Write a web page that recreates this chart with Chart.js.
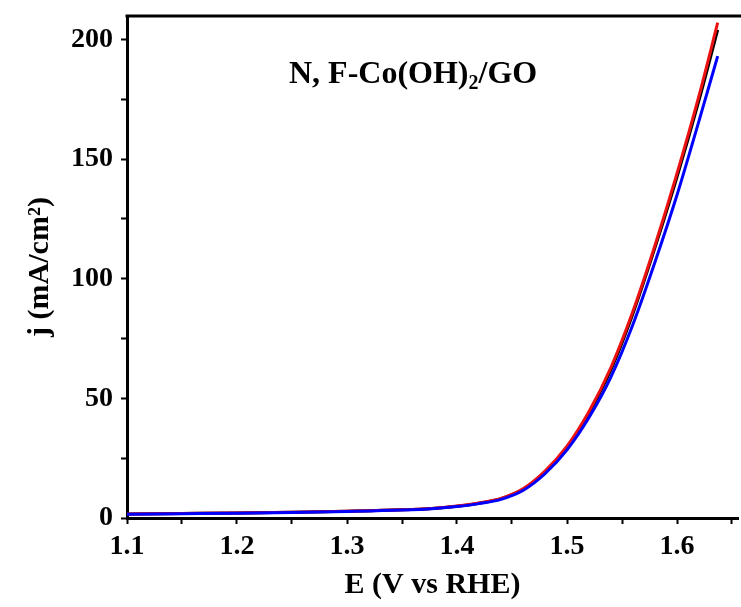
<!DOCTYPE html>
<html>
<head>
<meta charset="utf-8">
<script src="https://cdn.jsdelivr.net/npm/chart.js@4/dist/chart.umd.min.js"></script>
<style>
  body { margin: 0; background: #fff; }
  #wrap { width: 741px; height: 607px; }
</style>
</head>
<body>
<div id="wrap"><canvas id="c"></canvas></div>
<script>
// potential (V vs RHE) and current density (mA/cm2)
const potential = [1.10, 1.15, 1.20, 1.25, 1.30, 1.35, 1.38, 1.40, 1.42, 1.44, 1.46, 1.48, 1.50, 1.52, 1.54, 1.56, 1.58, 1.60, 1.62, 1.637];
const jBlack = [1.7, 1.9, 2.1, 2.4, 2.8, 3.4, 4.1, 4.9, 6.2, 8.1, 12.0, 19.3, 29.5, 44.0, 62.0, 85.5, 113.0, 142.5, 174.5, 204.0];
const jRed = [1.7, 1.9, 2.1, 2.4, 2.8, 3.4, 4.1, 5.0, 6.3, 8.2, 12.2, 19.6, 30.0, 44.5, 63.0, 86.5, 114.0, 144.0, 176.5, 207.0];
const jBlue = [1.6, 1.8, 2.0, 2.3, 2.7, 3.3, 4.0, 4.8, 6.0, 7.8, 11.5, 18.5, 28.5, 42.0, 59.0, 81.0, 107.0, 135.0, 166.0, 193.0];

const xTicks = [1.1, 1.2, 1.3, 1.4, 1.5, 1.6];
const yTicks = [0, 50, 100, 150, 200];

const font = "'Liberation Serif', 'Times New Roman', serif";
const pts = (ys) => potential.map((x, i) => ({ x, y: ys[i] }));

const frame = {
  id: "frame",
  afterDraw(chart) {
    const { ctx, chartArea: a } = chart;
    ctx.save();
    // top border of the frame
    ctx.strokeStyle = "#000";
    ctx.lineWidth = 3;
    ctx.beginPath();
    ctx.moveTo(a.left - 1.5, a.top);
    ctx.lineTo(chart.width, a.top);
    ctx.stroke();
    // sample label with subscript
    ctx.fillStyle = "#000";
    ctx.textBaseline = "alphabetic";
    let x = 289;
    const y = 83;
    const parts = [
      ["N, F-Co(OH)", 32, 0],
      ["2", 20, 6],
      ["/GO", 32, 0],
    ];
    for (const [t, size, dy] of parts) {
      ctx.font = `bold ${size}px ${font}`;
      ctx.fillText(t, x, y + dy);
      x += ctx.measureText(t).width;
    }
    ctx.restore();
  },
};

new Chart(document.getElementById("c"), {
  type: "line",
  data: {
    // first dataset is painted on top
    datasets: [
      { data: pts(jBlue), borderColor: "#0000ff", borderWidth: 3 },
      { data: pts(jRed), borderColor: "#ee1111", borderWidth: 3 },
      { data: pts(jBlack), borderColor: "#000000", borderWidth: 3 },
    ].map((d) => ({ ...d, pointRadius: 0, fill: false, cubicInterpolationMode: "monotone" })),
  },
  options: {
    animation: false,
    responsive: true,
    maintainAspectRatio: false,
    layout: { padding: { top: 16, right: 0, left: 20, bottom: 7 } },
    plugins: { legend: { display: false }, tooltip: { enabled: false } },
    scales: {
      x: {
        type: "linear",
        min: 1.1,
        max: 1.6555,
        afterBuildTicks: (s) => {
          const t = [];
          for (let v = 1.1; v < 1.66; v += 0.05) t.push({ value: Math.round(v * 100) / 100 });
          s.ticks = t;
        },
        ticks: {
          autoSkip: false,
          maxRotation: 0,
          color: "#000",
          padding: 9,
          font: { family: font, size: 28, weight: "bold", lineHeight: 1 },
          callback: (v) => (xTicks.some((t) => Math.abs(t - v) < 1e-6) ? v.toFixed(1) : ""),
        },
        grid: { drawOnChartArea: false, tickLength: 6, tickWidth: 2, tickColor: "#000" },
        border: { color: "#000", width: 3 },
        title: {
          display: true,
          text: "E (V vs RHE)",
          color: "#000",
          padding: { top: 0, bottom: 0 },
          font: { family: font, size: 30, weight: "bold", lineHeight: 1 },
        },
      },
      y: {
        type: "linear",
        min: 0,
        max: 209.8,
        afterBuildTicks: (s) => {
          const t = [];
          for (let v = 0; v <= 200; v += 25) t.push({ value: v });
          s.ticks = t;
        },
        // the top label sits below the frame, so no room is needed above it
        afterFit: (s) => {
          s.paddingTop = 0;
        },
        ticks: {
          autoSkip: false,
          color: "#000",
          padding: 8,
          font: { family: font, size: 28, weight: "bold" },
          callback: (v) => (yTicks.includes(v) ? String(v) : ""),
        },
        grid: { drawOnChartArea: false, tickLength: 6, tickWidth: 2, tickColor: "#000" },
        border: { color: "#000", width: 3 },
        title: {
          display: true,
          text: "j (mA/cm²)",
          color: "#000",
          padding: { top: 2, bottom: 5 },
          font: { family: font, size: 30, weight: "bold" },
        },
      },
    },
  },
  plugins: [frame],
});
</script>
</body>
</html>
